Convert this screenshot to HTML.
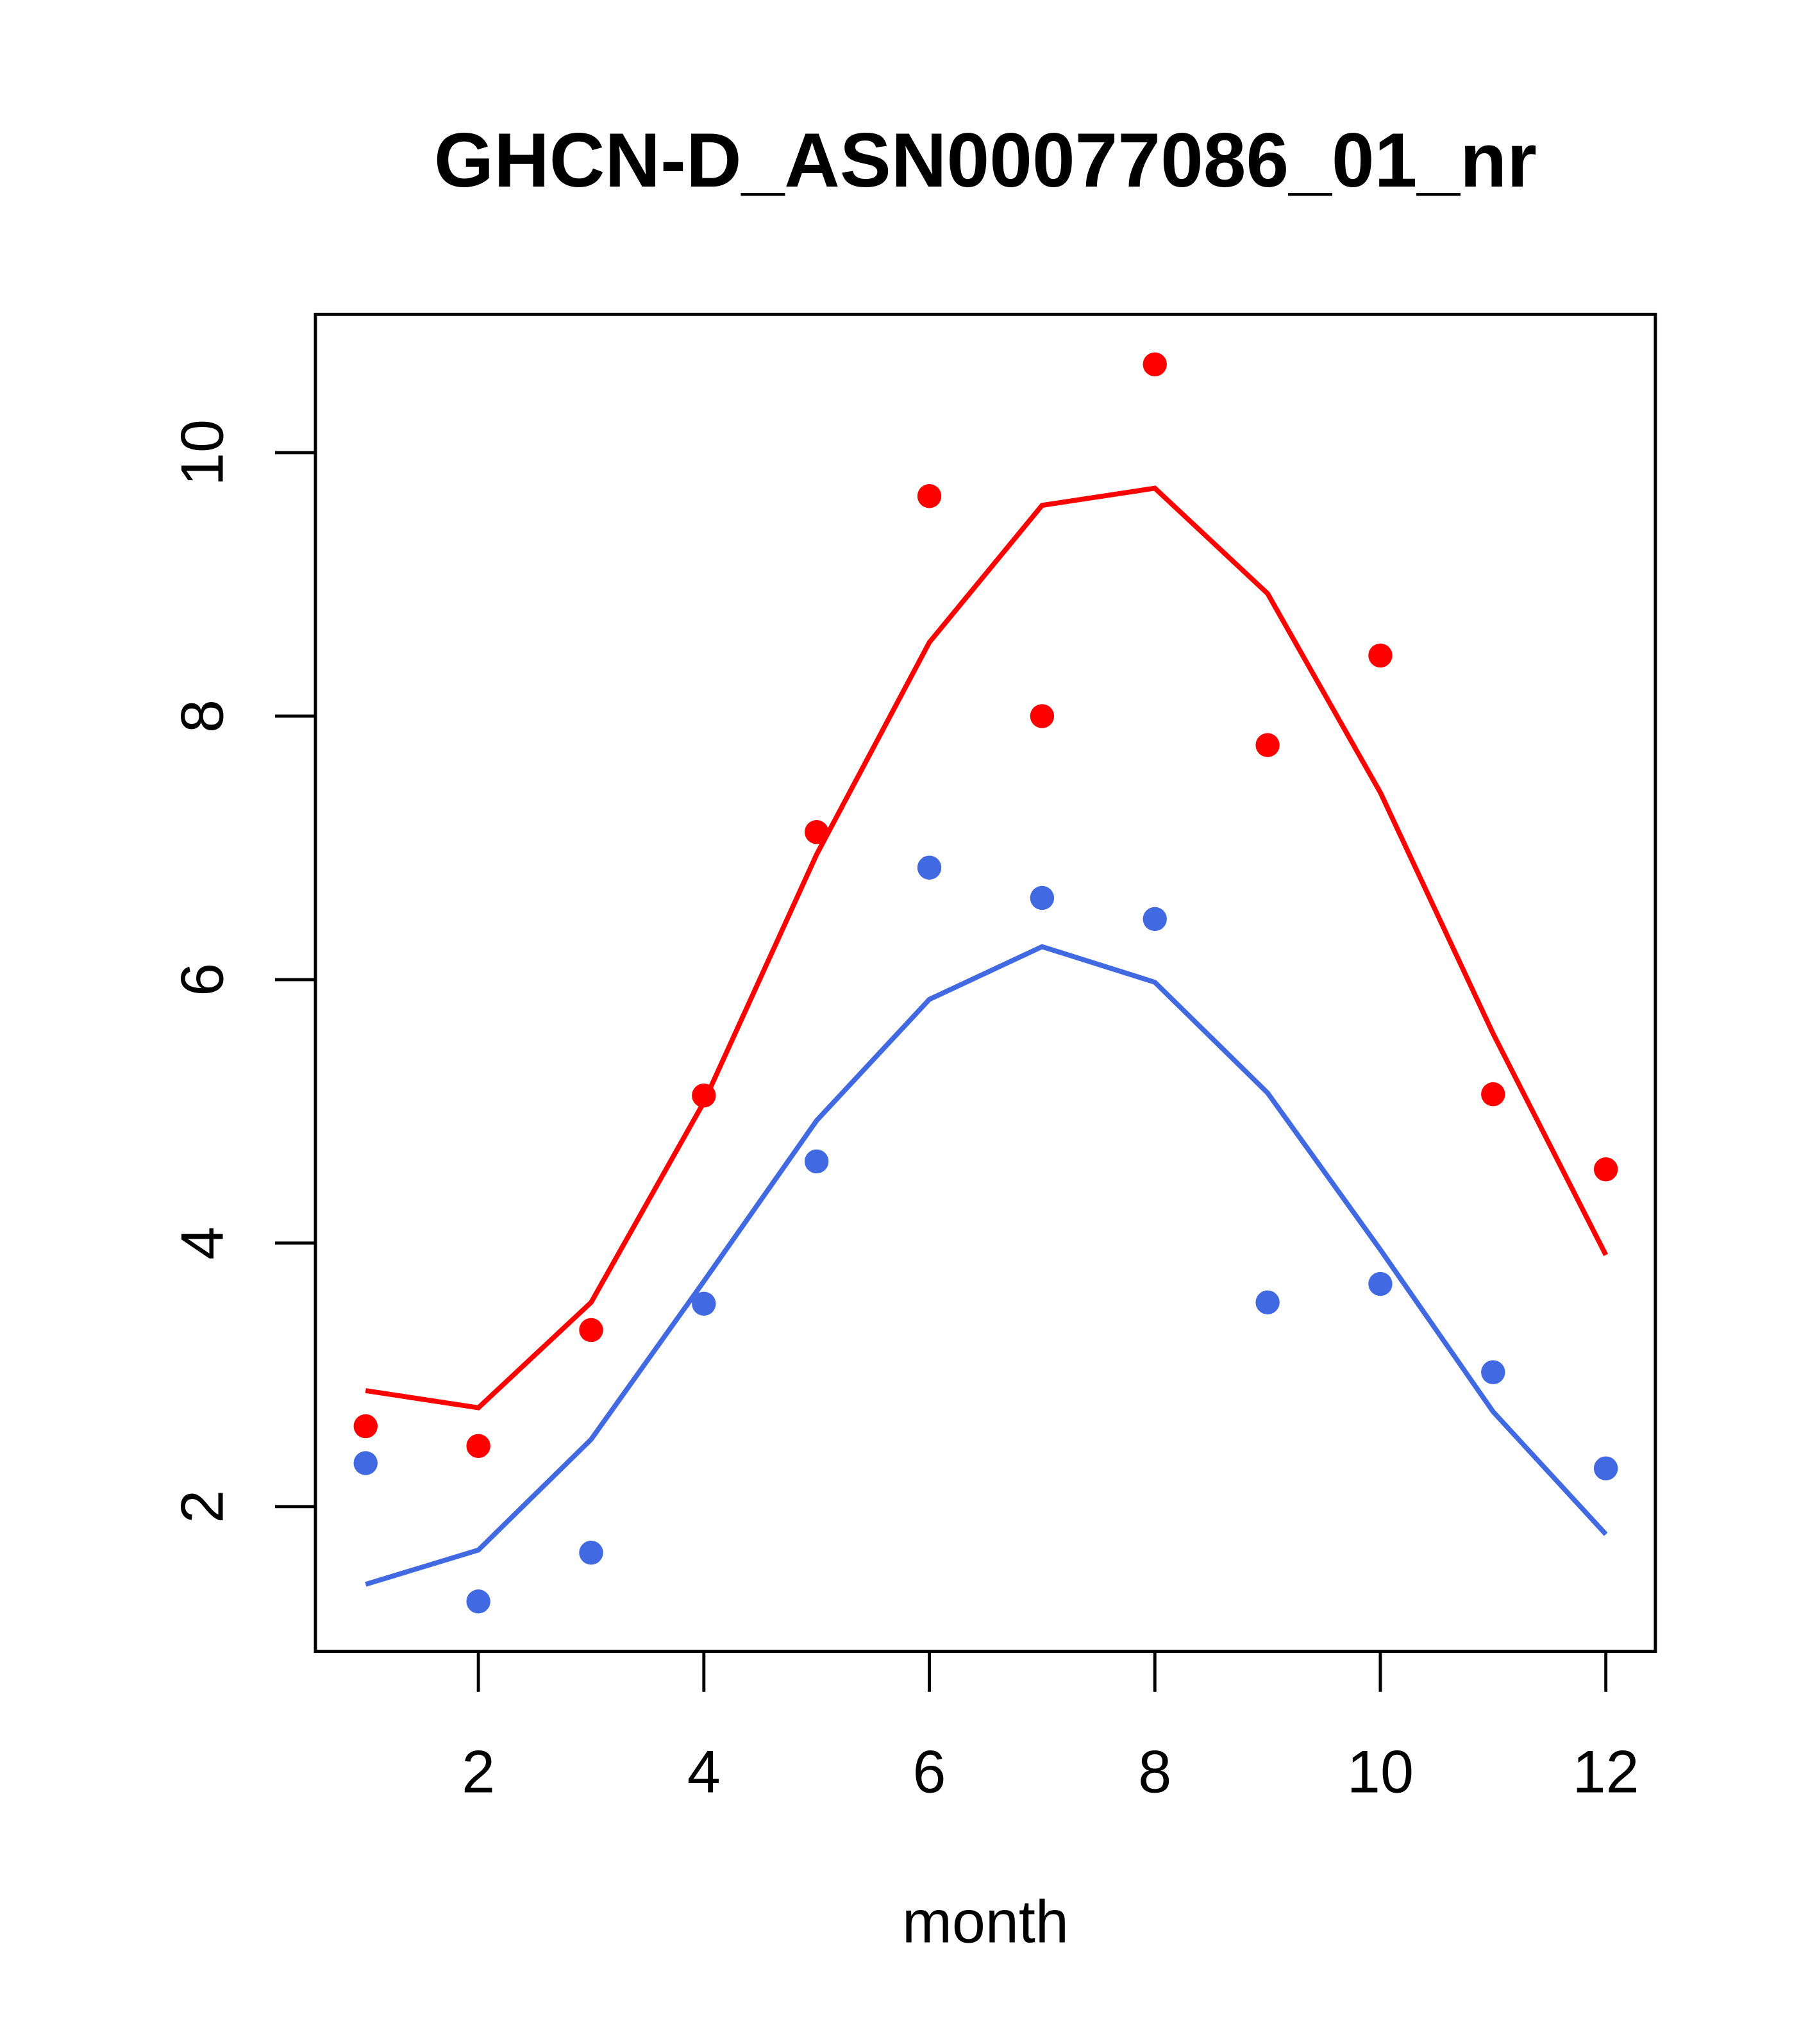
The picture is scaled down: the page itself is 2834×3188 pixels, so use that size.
<!DOCTYPE html>
<html><head><meta charset="utf-8"><style>
html,body{margin:0;padding:0;background:#fff}
svg{display:block}
text{font-family:"Liberation Sans",Arial,sans-serif;fill:#000}
</style></head><body>
<svg id="chart" width="2834" height="3188" viewBox="0 0 1394 1567" preserveAspectRatio="none" xmlns="http://www.w3.org/2000/svg">
<rect width="1394" height="1567" fill="#fff"/>
<text x="756" y="143" font-size="59" font-weight="bold" text-anchor="middle">GHCN-D_ASN00077086_01_nr</text>
<rect x="242" y="241" width="1028" height="1025" fill="none" stroke="#000" stroke-width="2.4"/>
<text x="756" y="1489" font-size="46" text-anchor="middle">month</text>
<g id="xaxis"></g>
<g id="yaxis"></g>
<g id="series"></g>
</svg>
<script>
const months = [1,2,3,4,5,6,7,8,9,10,11,12];
const redPoints = [2.61,2.46,3.34,5.12,7.12,9.67,8.0,10.67,7.78,8.46,5.13,4.56];
const redLine = [2.88,2.75,3.55,5.07,6.95,8.56,9.60,9.73,8.93,7.42,5.59,3.91];
const bluePoints = [2.33,1.28,1.65,3.54,4.62,6.85,6.62,6.46,3.55,3.69,3.02,2.29];
const blueLine = [1.41,1.67,2.51,3.71,4.93,5.85,6.25,5.98,5.14,3.95,2.72,1.79];
const xTicks = [2,4,6,8,10,12];
const yTicks = [2,4,6,8,10];

const NS="http://www.w3.org/2000/svg";
function X(m){return 367+(m-2)*86.5;}
function Y(v){return 1155-(v-2)*101;}
function mk(tag,attrs,parent){const e=document.createElementNS(NS,tag);for(const k in attrs)e.setAttribute(k,attrs[k]);parent.appendChild(e);return e;}
const xa=document.getElementById('xaxis'), ya=document.getElementById('yaxis'), sg=document.getElementById('series');
xTicks.forEach(t=>{
  const l=mk('line',{x1:X(t),x2:X(t),y1:1266,y2:1297,stroke:'#000','stroke-width':2.4},xa);
  
  
  const tx=mk('text',{x:X(t),y:1374,'font-size':46,'text-anchor':'middle'},xa);
  tx.textContent=t;
  
  
});
yTicks.forEach(t=>{
  const l=mk('line',{x1:211,x2:242,y1:Y(t),y2:Y(t),stroke:'#000','stroke-width':2.4},ya);
  
  
  const tx=mk('text',{x:0,y:0,'font-size':46,'text-anchor':'middle',transform:`translate(171,${Y(t)}) rotate(-90)`},ya);
  tx.textContent=t;
  
  
});
function line(vals,color,name){
  const p=mk('polyline',{points:vals.map((v,i)=>X(months[i])+','+Y(v)).join(' '),fill:'none',stroke:color,'stroke-width':3.8},sg);
  
  
}
function pts(vals,color,name){
  vals.forEach((v,i)=>{
    const c=mk('circle',{cx:X(months[i]),cy:Y(v),r:9.2,fill:color},sg);
    
    
  });
}
line(redLine,'#ff0000','red-line');
line(blueLine,'#4169e1','blue-line');
pts(redPoints,'#ff0000','red-point');
pts(bluePoints,'#4169e1','blue-point');
</script>
</body></html>
